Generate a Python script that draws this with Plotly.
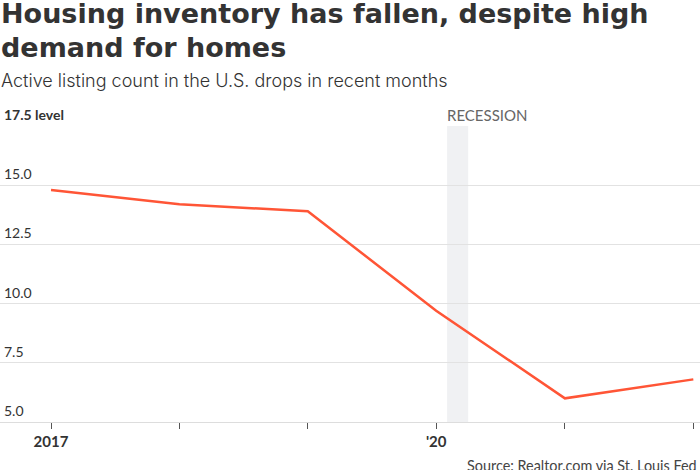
import plotly.graph_objects as go

dates = ["2017-01-01", "2018-01-01", "2019-01-01", "2020-01-01", "2021-01-01", "2022-01-01"]
values = [14.8, 14.2, 13.9, 9.7, 6.0, 6.8]
y_ticks = [5.0, 7.5, 10.0, 12.5, 15.0, 17.5]
y_tick_labels = ["5.0", "7.5", "10.0", "12.5", "15.0", "17.5 level"]
x_tick_vals = dates
x_tick_text = ["2017", "", "", "'20", "", ""]
recession = ["2020-02-01", "2020-04-01"]

title_lines = ["Housing inventory has fallen, despite high", "demand for homes"]
subtitle = "Active listing count in the U.S. drops in recent months"
source = "Source: Realtor.com via St. Louis Fed"

fig = go.Figure()
fig.add_trace(go.Scatter(x=dates, y=values, mode="lines",
                         line=dict(color="#ff5536", width=2.5), hoverinfo="skip"))

fig.add_shape(type="rect", xref="x", yref="y", x0=recession[0], x1=recession[1],
              y0=5.0, y1=17.5, fillcolor="#f0f1f3", line=dict(width=0), layer="below")
fig.add_annotation(x=recession[0], y=17.5, xref="x", yref="y", text="RECESSION",
                   showarrow=False, xanchor="left", yanchor="bottom", yshift=0, xshift=-2,
                   font=dict(family="Lato", size=15, color="#666666"))

for v, t in zip(y_ticks, y_tick_labels):
    fig.add_annotation(x=0, xref="paper", y=v, yref="y", text=t, showarrow=False,
                       xanchor="left", yanchor="bottom", xshift=2, yshift=1,
                       font=dict(family="Lato", size=14, color="#333333",
                                 weight="bold" if "level" in t else "normal"))

# titles (positioned in pixels relative to the plot top at y=126)
fig.add_annotation(text="<b>" + title_lines[0] + "</b>", x=0, xref="paper", xanchor="left",
                   xshift=-1, y=1, yref="paper", yanchor="top", yshift=130, showarrow=False,
                   font=dict(family="DejaVu Sans", size=27, color="#333333"))
fig.add_annotation(text="<b>" + title_lines[1] + "</b>", x=0, xref="paper", xanchor="left",
                   xshift=-1, y=1, yref="paper", yanchor="top", yshift=96, showarrow=False,
                   font=dict(family="DejaVu Sans", size=27, color="#333333"))
fig.add_annotation(text=subtitle, x=0, xref="paper", xanchor="left", xshift=-1,
                   y=1, yref="paper", yanchor="top", yshift=58, showarrow=False,
                   font=dict(family="Inter", size=18, color="#333333", weight=300))
fig.add_annotation(text=source, x=1.0, xref="paper", xanchor="right", xshift=-1,
                   y=0, yref="paper", yanchor="top", yshift=-33, showarrow=False,
                   font=dict(family="Lato", size=14.4, color="#444444"))

fig.update_layout(
    width=700, height=470,
    margin=dict(l=0, r=0, t=126, b=48, autoexpand=False),
    paper_bgcolor="white", plot_bgcolor="white",
    showlegend=False,
    xaxis=dict(range=["2016-08-09", "2022-01-20"], tickvals=x_tick_vals, ticktext=x_tick_text,
               showgrid=False, showline=True, linecolor="#dddddd", linewidth=1,
               ticks="outside", ticklen=6, tickcolor="#555555", tickwidth=1,
               tickfont=dict(family="Lato", size=15, color="#333333", weight="bold"),
               zeroline=False, fixedrange=True, automargin=False),
    yaxis=dict(range=[5.0, 17.5], tickvals=y_ticks, showticklabels=False,
               showgrid=True, gridcolor="#e2e2e2", gridwidth=1, zeroline=False,
               fixedrange=True, automargin=False),
)

fig.write_html("out.html", post_script="document.body.style.margin='0px';",
               config={"displayModeBar": False})
